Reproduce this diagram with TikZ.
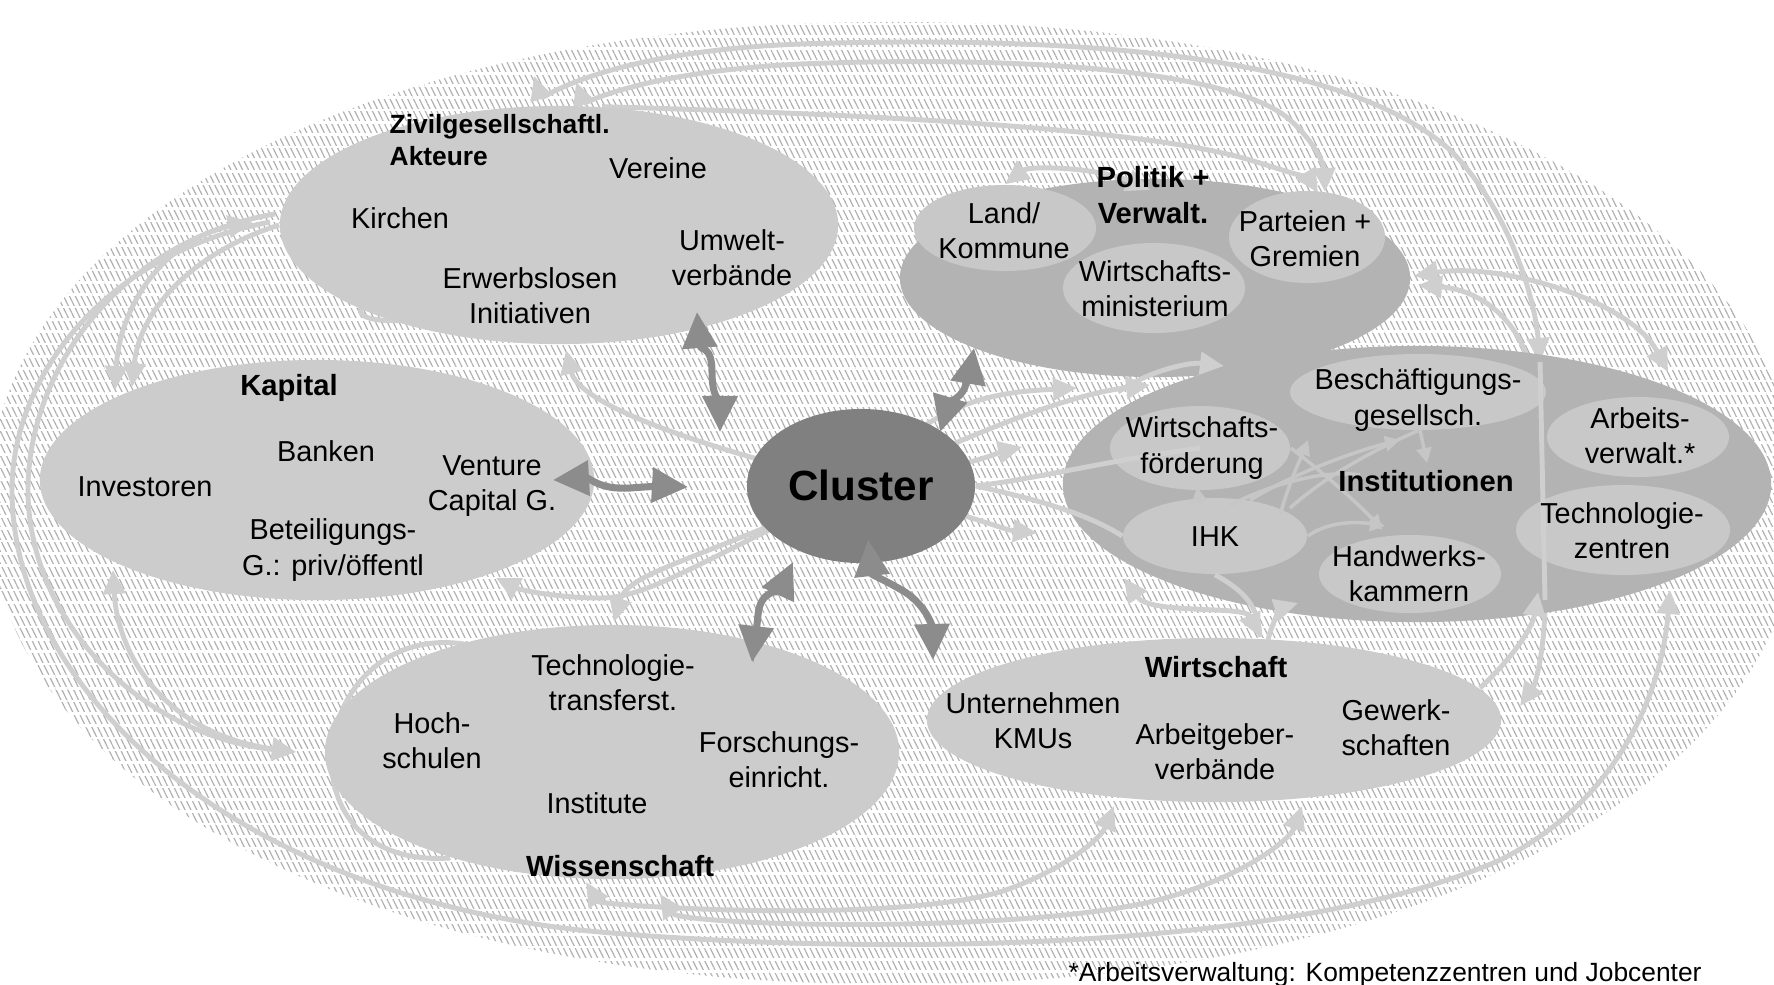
\documentclass[tikz,border=0pt]{standalone}
\usepackage{fontspec}
\setmainfont{Liberation Sans}
\usetikzlibrary{arrows.meta,shapes.geometric,patterns.meta}
\pgfdeclarelayer{hatch}
\pgfdeclarelayer{back}
\pgfdeclarelayer{front}
\pgfdeclarelayer{labels}
\pgfsetlayers{hatch,back,main,front,labels}
\definecolor{hatchc}{HTML}{B0B0B0}
\definecolor{ellL}{HTML}{CCCCCC}
\definecolor{ellM}{HTML}{B3B3B3}
\definecolor{ellS}{HTML}{C8C8C8}
\definecolor{clu}{HTML}{808080}
\definecolor{arrL}{HTML}{CFCFCF}
\definecolor{arrI}{HTML}{C6C6C6}
\definecolor{arrD}{HTML}{8C8C8C}
\tikzset{
 ell/.style={ellipse, inner sep=0pt, draw=none},
 lightE/.style={ell, fill=ellL},
 midE/.style={ell, fill=ellM},
 subE/.style={ell, fill=ellS},
 lar/.style={draw=arrL, line width=1.4pt, >={Triangle[length=0.24cm,width=0.22cm]}},
 lin/.style={draw=arrI, line width=1pt, >={Triangle[length=0.15cm,width=0.15cm]}},
 dar/.style={draw=arrD, line width=2pt, >={Triangle[length=0.36cm,width=0.34cm]}},
 txt/.style={font=\fontsize{8.2}{10}\selectfont, align=center, inner sep=0pt},
 ttl/.style={font=\fontsize{8.3}{10.2}\selectfont\bfseries, align=center, inner sep=0pt},
}
\begin{document}
\begin{tikzpicture}[x=0.01cm, y=-0.01cm]
\useasboundingbox (0,0) rectangle (1774,984);

% ---------- hatched background ----------
\begin{pgfonlayer}{hatch}
\begin{scope}
\clip (0,0) rectangle (1774,984);
\fill[pattern={Lines[angle=-64,distance=1.5pt,line width=0.34pt]}, pattern color=hatchc]
  plot[domain=0:357, samples=120, smooth cycle]
  ({894+905*sign(cos(\x))*pow(abs(cos(\x))+0.0001,0.952)}, {503+481*sign(sin(\x))*pow(abs(sin(\x))+0.0001,0.952)});
\fill[pattern={Lines[angle=0,distance=3.5pt,line width=0.75pt]}, pattern color=white]
  plot[domain=0:357, samples=120, smooth cycle]
  ({894+905*sign(cos(\x))*pow(abs(cos(\x))+0.0001,0.952)}, {503+481*sign(sin(\x))*pow(abs(sin(\x))+0.0001,0.952)});
\end{scope}
\end{pgfonlayer}

% ---------- ellipses ----------
\node[lightE, minimum width=5.58cm, minimum height=2.38cm] (zivil) at (559,225) {};
\node[lightE, minimum width=5.54cm, minimum height=2.40cm] (kapital) at (317,480) {};
\node[lightE, minimum width=5.74cm, minimum height=2.54cm] (wiss) at (612,752) {};
\node[lightE, minimum width=5.74cm, minimum height=1.64cm] (wirt) at (1214,720) {};
\node[midE, minimum width=5.10cm, minimum height=1.98cm] (politik) at (1155,278) {};
\node[midE, minimum width=7.08cm, minimum height=2.76cm] (instit) at (1417,484) {};
\node[ell, fill=clu, minimum width=2.28cm, minimum height=1.54cm] (cluster) at (861,486) {};
\node[subE, minimum width=1.82cm, minimum height=0.86cm] (land) at (1005,228) {};
\node[subE, minimum width=1.82cm, minimum height=0.90cm] (wmin) at (1154,288) {};
\node[subE, minimum width=1.56cm, minimum height=0.92cm] (part) at (1307,237) {};
\node[subE, minimum width=2.56cm, minimum height=0.76cm] (besch) at (1418,392) {};
\node[subE, minimum width=1.82cm, minimum height=0.80cm] (arbv) at (1638,437) {};
\node[subE, minimum width=1.80cm, minimum height=0.84cm] (wfoe) at (1200,448) {};
\node[subE, minimum width=1.84cm, minimum height=0.76cm] (ihk) at (1215,536) {};
\node[subE, minimum width=1.82cm, minimum height=0.78cm] (handw) at (1410,574) {};
\node[subE, minimum width=2.14cm, minimum height=0.90cm] (tech) at (1623,530) {};

% ---------- arrow end points ----------
\coordinate (zT1) at (534,76);
\coordinate (zT2) at (576,82);
\coordinate (iT1) at (1540,362);
\coordinate (pT2) at (1325,192);
\coordinate (pT3) at (1318,193);
\coordinate (pR) at (1414,276);
\coordinate (aTop) at (1668,372);
\coordinate (pR2) at (1418,285);
\coordinate (iR2) at (1528,360);
\coordinate (iB) at (1545,600);
\coordinate (wR) at (1520,706);
\coordinate (wRt) at (1480,688);
\coordinate (iB2) at (1538,592);
\coordinate (tB) at (1670,590);
\coordinate (zL) at (270,222);
\coordinate (zL2) at (275,214);
\coordinate (hL) at (296,752);
\coordinate (kT) at (115,390);
\coordinate (zLh) at (252,222);
\coordinate (kT2) at (132,387);
\coordinate (kB) at (113,570);
\coordinate (wsB1) at (586,882);
\coordinate (wtB1) at (1114,806);
\coordinate (wsB2) at (660,894);
\coordinate (wtB2) at (1302,806);
\coordinate (zB) at (566,350);
\coordinate (kBR) at (496,578);
\coordinate (wsT) at (614,622);
\coordinate (gap1) at (1077,388);
\coordinate (gap2) at (1150,385);
\coordinate (gap3) at (1224,366);
\coordinate (sm1) at (1022,447);
\coordinate (sm2) at (1037,533);
\coordinate (ihkBL) at (1124,578);
\coordinate (wtT) at (1260,637);
\coordinate (wtT2) at (1268,640);
\coordinate (iBm) at (1298,603);

% ---------- light connectors behind the ellipses ----------
\begin{pgfonlayer}{back}
\draw[lar,<->] (zT1) .. controls (542,100) and (600,52) .. (800,44) .. controls (1100,34) and (1350,60) .. (1450,150) .. controls (1510,210) and (1535,300) .. (iT1);
\draw[lar,<->] (zT2) .. controls (584,104) and (640,72) .. (800,64) .. controls (1050,54) and (1240,75) .. (1290,120) .. controls (1315,142) and (1324,165) .. (pT2);
\draw[lar,->] (zivil.70) .. controls (900,115) and (1150,130) .. (1250,160) .. controls (1290,172) and (1310,180) .. (pT3);
\draw[lar,<->] (pR) .. controls (1500,262) and (1630,300) .. (aTop);
\draw[lar,->] (iR2) .. controls (1515,318) and (1480,290) .. (pR2);
\draw[lar,->] (iB) .. controls (1545,650) and (1535,685) .. (wR);
\draw[lar,->] (zL) .. controls (100,255) and (12,380) .. (12,490) .. controls (12,700) and (250,900) .. (600,932) .. controls (900,958) and (1300,948) .. (1500,860) .. controls (1620,800) and (1662,690) .. (tB);
\draw[lar,->] (zL2) .. controls (120,240) and (28,370) .. (28,490) .. controls (28,620) and (140,735) .. (hL);
\draw[lar,<->] (kT) .. controls (120,300) and (170,238) .. (zLh);
\draw[lar,->] (zivil.west) .. controls (200,250) and (140,305) .. (kT2);
\draw[lar,<->] (kB) .. controls (118,660) and (170,735) .. (hL);
\draw[lar,<->] (wsB1) .. controls (600,905) and (880,925) .. (1000,892) .. controls (1060,872) and (1100,840) .. (wtB1);
\draw[lar,<->] (wsB2) .. controls (680,925) and (1000,935) .. (1150,902) .. controls (1240,880) and (1290,840) .. (wtB2);
\draw[lar,->] (cluster.center) .. controls (670,440) and (578,400) .. (zB);
\draw[lar,->] (cluster.center) .. controls (700,560) and (650,598) .. (600,598) .. controls (560,598) and (520,590) .. (kBR);
\draw[lar,->] (cluster.center) .. controls (700,560) and (628,572) .. (wsT);
\draw[lar,->] (cluster.center) .. controls (930,398) and (1000,392) .. (gap1);
\draw[lar,->] (cluster.center) .. controls (1020,410) and (1090,392) .. (gap2);
\draw[lar,->] (cluster.center) .. controls (985,462) and (1000,452) .. (sm1);
\draw[lar,->] (cluster.center) .. controls (985,520) and (1005,530) .. (sm2);
\draw[lar,<->] (ihkBL) .. controls (1150,615) and (1245,605) .. (wtT);
\draw[lar] (zivil.center) .. controls (295,305) and (350,325) .. (410,320);
\draw[lar] (470,645) .. controls (310,615) and (270,870) .. (450,858);
\end{pgfonlayer}

% ---------- light connectors on top ----------
\begin{pgfonlayer}{front}
\draw[lar] (iT1) -- (iB);
\draw[lar,->] (wRt) .. controls (1510,660) and (1532,630) .. (iB2);
\draw[lar,->] (wtT2) .. controls (1272,622) and (1282,608) .. (iBm);
\draw[lar] (ihk.south) .. controls (1252,595) and (1258,612) .. (wtT);
\draw[lar,->] (1118,392) .. controls (1150,370) and (1190,362) .. (gap3);
\draw[lar] (cluster.east) .. controls (1040,478) and (1100,462) .. (wfoe.center);
\draw[lar] (cluster.east) .. controls (1040,500) and (1090,515) .. (ihk.west);
\draw[lar,<->] (land.north) .. controls (1030,165) and (1100,168) .. (1150,190);
% network inside Institutionen
\draw[lin,->] (1280,515) .. controls (1290,480) and (1300,460) .. (1308,440);
\draw[lin,->] (wfoe.east) .. controls (1320,470) and (1360,505) .. (1382,530);
\draw[lin,->] (ihk.east) .. controls (1330,520) and (1360,522) .. (1385,526);
\draw[lin] (besch.south) .. controls (1350,460) and (1310,490) .. (1290,508);
\draw[lin,->] (1250,500) .. controls (1300,470) and (1360,450) .. (1400,440);
\draw[lin,->] (1420,430) -- (1427,463);
\draw[lin] (1230,505) .. controls (1280,480) and (1330,470) .. (1360,475);
\draw[lin,->] (1200,505) -- (1197,487);
% dark connectors to the cluster
\draw[dar,<->] (697,312) .. controls (700,350) and (712,345) .. (712,372) .. controls (712,398) and (720,402) .. (720,432);
\draw[dar,<->] (553,480) .. controls (590,478) and (600,490) .. (630,488) .. controls (655,486) and (670,486) .. (688,487);
\draw[dar,<->] (940,432) .. controls (948,405) and (965,395) .. (966,383) .. controls (968,370) and (972,360) .. (974,348);
\draw[dar,<->] (793,562) .. controls (780,590) and (760,590) .. (758,615) .. controls (756,635) and (754,645) .. (752,662);
\draw[dar,<->] (868,540) .. controls (872,575) and (885,580) .. (905,592) .. controls (925,605) and (932,625) .. (933,660);
\end{pgfonlayer}

% ---------- labels ----------
\begin{pgfonlayer}{labels}
\node[font=\fontsize{7.5}{9.1}\selectfont\bfseries, align=left, inner sep=0pt, anchor=west] (tZivil) at (389,140) {Zivilgesellschaftl.\\Akteure};
\node[txt] (tVereine) at (658,168) {Vereine};
\node[txt] (tKirchen) at (400,218) {Kirchen};
\node[txt] (tUmwelt) at (732,258) {Umwelt-\\verbände};
\node[txt] (tErwerb) at (530,296) {Erwerbslosen\\Initiativen};

\node[ttl] (tKapital) at (289,388) {Kapital};
\node[txt] (tBanken) at (326,451) {Banken};
\node[txt] (tInvest) at (145,487) {Investoren};
\node[txt] (tVenture) at (492,486) {Venture\\Capital G.};
\node[txt] (tBeteil) at (333,550) {Beteiligungs-\\G.: priv/öffentl};

\node[font=\fontsize{12}{14}\selectfont\bfseries, inner sep=0pt] (tCluster) at (861,485) {Cluster};

\node[ttl] (tPolitik) at (1153,195) {Politik +\\Verwalt.};
\node[txt] (tLand) at (1004,231) {Land/\\Kommune};
\node[txt] (tPart) at (1305,239) {Parteien +\\Gremien};
\node[txt] (tWmin) at (1155,289) {Wirtschafts-\\ministerium};

\node[txt] (tBesch) at (1418,400) {Beschäftigungs-\\gesellsch.};
\node[txt] (tArbv) at (1640,436) {Arbeits-\\verwalt.*};
\node[txt] (tWfoe) at (1202,448) {Wirtschafts-\\förderung};
\node[ttl] (tInstit) at (1426,481) {Institutionen};
\node[txt] (tIHK) at (1215,537) {IHK};
\node[txt] (tHandw) at (1409,574) {Handwerks-\\kammern};
\node[txt] (tTech) at (1622,531) {Technologie-\\zentren};

\node[ttl] (tWirt) at (1216,667) {Wirtschaft};
\node[txt] (tUntern) at (1033,721) {Unternehmen\\KMUs};
\node[txt] (tArbg) at (1215,752) {Arbeitgeber-\\verbände};
\node[txt] (tGew) at (1396,728) {Gewerk-\\schaften};

\node[txt] (tTT) at (613,683) {Technologie-\\transferst.};
\node[txt] (tHoch) at (432,741) {Hoch-\\schulen};
\node[txt] (tForsch) at (779,760) {Forschungs-\\einricht.};
\node[txt] (tInst) at (597,803) {Institute};
\node[ttl] (tWiss) at (620,866) {Wissenschaft};

\node[font=\fontsize{7.5}{9}\selectfont, inner sep=0pt, anchor=base west] (tFoot) at (1068,981) {*Arbeitsverwaltung: Kompetenzzentren und Jobcenter};
\end{pgfonlayer}
\end{tikzpicture}
\end{document}
